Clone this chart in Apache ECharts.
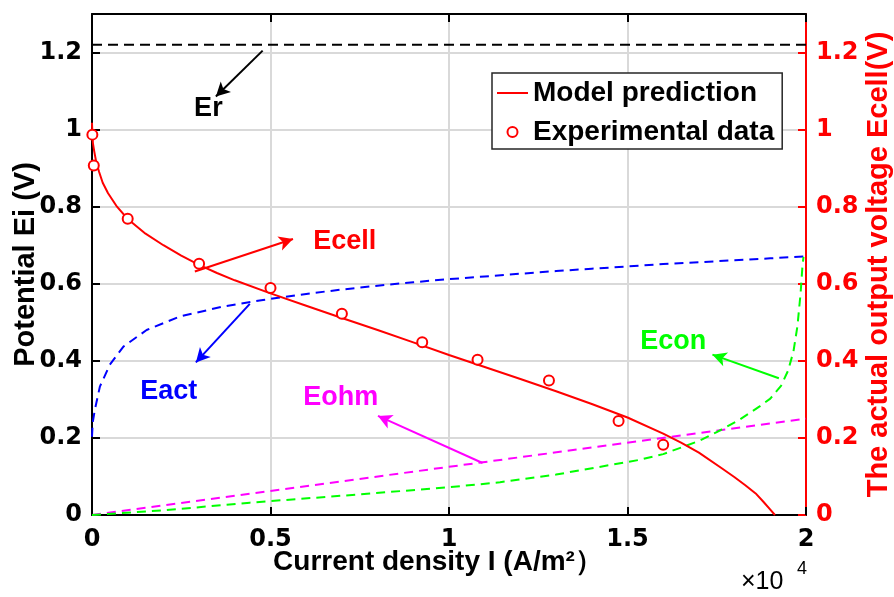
<!DOCTYPE html>
<html><head><meta charset="utf-8">
<script src="https://cdn.jsdelivr.net/npm/echarts@6/dist/echarts.min.js"></script>
<style>html,body{margin:0;padding:0;background:#fff}#c{width:894px;height:597px}</style>
</head><body><div id="c"></div>
<script>
// ---- data (x in A/m^2, y in V) ----
const erX = [0, 20000];
const erY = [1.22, 1.22];

const modelX = [0, 10, 25, 60, 120, 200, 300, 450, 700, 1000, 1500, 2000, 2500, 3000, 3500, 4000, 5000, 6000, 7000, 8000, 9000, 10000, 11000, 12000, 13000, 14000, 15000, 16000, 16500, 17000, 17660, 18000, 18300, 18590, 18800, 19000, 19130];
const modelY = [1.018, 0.99, 0.965, 0.945, 0.915, 0.89, 0.862, 0.835, 0.80, 0.768, 0.73, 0.70, 0.673, 0.649, 0.628, 0.609, 0.575, 0.543, 0.511, 0.48, 0.448, 0.415, 0.384, 0.353, 0.321, 0.288, 0.253, 0.211, 0.188, 0.162, 0.12, 0.098, 0.077, 0.056, 0.035, 0.014, 0];

const expX = [10, 50, 1000, 3000, 5000, 7000, 9250, 10800, 12800, 14750, 16000];
const expY = [0.987, 0.907, 0.769, 0.652, 0.589, 0.522, 0.448, 0.403, 0.349, 0.244, 0.182];

const eactX = [0, 20, 80, 220, 500, 880, 1530, 2460, 3670, 4790, 6190, 7000, 8000, 9000, 10000, 11000, 12000, 13000, 14000, 15000, 16000, 17000, 18000, 19000, 20000];
const eactY = [0.203, 0.24, 0.273, 0.333, 0.39, 0.437, 0.48, 0.515, 0.541, 0.558, 0.576, 0.585, 0.595, 0.604, 0.612, 0.619, 0.626, 0.633, 0.639, 0.645, 0.651, 0.656, 0.661, 0.666, 0.671];

const eohmX = [0, 10000, 20000];
const eohmY = [0, 0.125, 0.25];

const econX = [0, 2000, 4420, 7000, 10000, 11430, 13000, 15330, 16000, 17000, 17500, 18130, 18690, 19000, 19300, 19500, 19650, 19760, 19850, 19900, 19930];
const econY = [0, 0.012, 0.032, 0.05, 0.072, 0.085, 0.105, 0.143, 0.158, 0.192, 0.215, 0.247, 0.281, 0.302, 0.335, 0.375, 0.425, 0.49, 0.577, 0.645, 0.67];

const xTickValues = [0, 5000, 10000, 15000, 20000];
const xTickLabels = ['0', '0.5', '1', '1.5', '2'];
const yTickValues = [0, 0.2, 0.4, 0.6, 0.8, 1.0, 1.2];
const yTickLabels = ['0', '0.2', '0.4', '0.6', '0.8', '1', '1.2'];

// annotations (data units)
const annotNames = ['Er', 'Ecell', 'Eact', 'Eohm', 'Econ'];
const annotTextX = [3260, 7080, 2150, 6970, 16280];
const annotTextY = [1.055, 0.71, 0.32, 0.304, 0.45];
const annotFromX = [4780, 2880, 4420, 10940, 19240];
const annotFromY = [1.205, 0.632, 0.548, 0.135, 0.355];
const annotToX = [3470, 5630, 2910, 8010, 17380];
const annotToY = [1.086, 0.716, 0.396, 0.257, 0.416];
const annotColors = ['#000000', '#ff0000', '#0000ff', '#ff00ff', '#00ff00'];

// ---- chart ----
const zip = (xs, ys) => xs.map((x, i) => [x, ys[i]]);
const FONT = 'Liberation Sans, Arial, Helvetica, sans-serif';
const TFONT = 'DejaVu Sans, sans-serif';
const lblX = v => { const i = xTickValues.indexOf(v); return i >= 0 ? xTickLabels[i] : ''; };
const lblY = v => { const i = yTickValues.findIndex(t => Math.abs(t - v) < 1e-6); return i >= 0 ? yTickLabels[i] : ''; };

const series = [
  { name: 'Er', type: 'line', data: zip(erX, erY), symbol: 'none', lineStyle: { color: '#000', width: 2, type: [10, 6] }, z: 3 },
  { name: 'Eact', type: 'line', data: zip(eactX, eactY), symbol: 'none', lineStyle: { color: '#0000ff', width: 2, type: [9, 6] }, z: 3 },
  { name: 'Eohm', type: 'line', data: zip(eohmX, eohmY), symbol: 'none', lineStyle: { color: '#ff00ff', width: 2, type: [9, 6] }, z: 3 },
  { name: 'Econ', type: 'line', data: zip(econX, econY), symbol: 'none', lineStyle: { color: '#00ff00', width: 2, type: [9, 6] }, z: 3 },
  { name: 'Model prediction', type: 'line', data: zip(modelX, modelY), symbol: 'none', itemStyle: { color: '#ff0000' }, lineStyle: { color: '#ff0000', width: 2 }, z: 4 },
  { name: 'Experimental data', type: 'scatter', data: zip(expX, expY), symbol: 'emptyCircle', symbolSize: 10, itemStyle: { color: '#ff0000', borderColor: '#ff0000', borderWidth: 2, opacity: 1 }, z: 6 }
];
annotNames.forEach((n, i) => {
  series.push({
    name: 'annot_' + n, type: 'scatter', symbolSize: 0, silent: true, z: 5,
    itemStyle: { opacity: 1 },
    data: [{ value: [annotTextX[i], annotTextY[i]], name: n }],
    label: { show: true, position: 'inside', formatter: n, color: annotColors[i], opacity: 1, fontSize: 27, fontWeight: 'bold', fontFamily: FONT },
    markLine: {
      silent: true, animation: false, symbol: ['none', 'arrow'], symbolSize: [11, 14],
      label: { show: false },
      lineStyle: { color: annotColors[i], width: 2, type: 'solid', opacity: 1 },
      data: [[{ coord: [annotFromX[i], annotFromY[i]] }, { coord: [annotToX[i], annotToY[i]] }]]
    }
  });
});

const chart = echarts.init(document.getElementById('c'), null, { renderer: 'canvas' });
chart.setOption({
  animation: false,
  backgroundColor: '#fff',
  grid: { left: 92, right: 88, top: 14, bottom: 82, containLabel: false, outerBoundsMode: 'none' },
  legend: {
    data: [
      { name: 'Model prediction', icon: 'path://M0,0 L31,0 L31,2 L0,2 Z' },
      { name: 'Experimental data', icon: 'emptyCircle' }
    ],
    orient: 'vertical', left: 492, top: 73,
    padding: [6, 8, 3, 5], itemGap: 11, itemWidth: 31, itemHeight: 10,
    borderColor: '#262626', borderWidth: 1.5, backgroundColor: '#fff',
    textStyle: { fontSize: 28, fontWeight: 'bold', color: '#000', fontFamily: FONT },
    selectedMode: false
  },
  xAxis: [
    {
      type: 'value', min: 0, max: 20000, interval: 5000, position: 'bottom',
      name: 'Current density I (A/m²）', nameLocation: 'middle', nameGap: 33, nameMoveOverlap: false,
      nameTextStyle: { fontSize: 28, fontWeight: 'bold', color: '#000', fontFamily: FONT, padding: [0, 22, 0, 0] },
      axisLine: { onZero: false, lineStyle: { color: '#000', width: 2 } },
      axisTick: { inside: true, length: 8, lineStyle: { color: '#000', width: 2 } },
      axisLabel: { formatter: lblX, fontSize: 24, fontWeight: 'bold', color: '#000', fontFamily: TFONT, margin: 13 },
      splitLine: { show: true, lineStyle: { color: '#d9d9d9', width: 2 } }
    },
    {
      type: 'value', min: 0, max: 20000, interval: 5000, position: 'top',
      axisLine: { onZero: false, lineStyle: { color: '#000', width: 2 } },
      axisTick: { inside: true, length: 8, lineStyle: { color: '#000', width: 2 } },
      axisLabel: { show: false }, splitLine: { show: false }
    }
  ],
  yAxis: [
    {
      type: 'value', min: 0, max: 1.3, interval: 0.2, position: 'left',
      name: 'Potential Ei (V)', nameLocation: 'middle', nameGap: 52, nameRotate: 90, nameMoveOverlap: false,
      nameTextStyle: { fontSize: 29, fontWeight: 'bold', color: '#000', fontFamily: FONT },
      axisLine: { onZero: false, lineStyle: { color: '#000', width: 2 } },
      axisTick: { inside: true, length: 8, lineStyle: { color: '#000', width: 2 } },
      axisLabel: { formatter: lblY, showMaxLabel: false, fontSize: 24, fontWeight: 'bold', color: '#000', fontFamily: TFONT, margin: 10 },
      splitLine: { show: true, lineStyle: { color: '#d9d9d9', width: 2 } }
    },
    {
      type: 'value', min: 0, max: 1.3, interval: 0.2, position: 'right',
      name: 'The actual output voltage Ecell(V)', nameLocation: 'middle', nameGap: 58, nameRotate: 90, nameMoveOverlap: false,
      nameTextStyle: { fontSize: 29, fontWeight: 'bold', color: '#ff0000', fontFamily: FONT },
      axisLine: { onZero: false, lineStyle: { color: '#ff0000', width: 2 } },
      axisTick: { inside: true, length: 8, lineStyle: { color: '#ff0000', width: 2 } },
      axisLabel: { formatter: lblY, showMaxLabel: false, fontSize: 24, fontWeight: 'bold', color: '#ff0000', fontFamily: TFONT, margin: 10 },
      splitLine: { show: false }
    }
  ],
  graphic: [
    { type: 'text', left: 741, top: 570, style: { text: '×10', fontSize: 25, fontFamily: FONT, fill: '#000' } },
    { type: 'text', left: 797, top: 560, style: { text: '4', fontSize: 18, fontFamily: FONT, fill: '#000' } }
  ],
  series: series
});
</script>
</body></html>
